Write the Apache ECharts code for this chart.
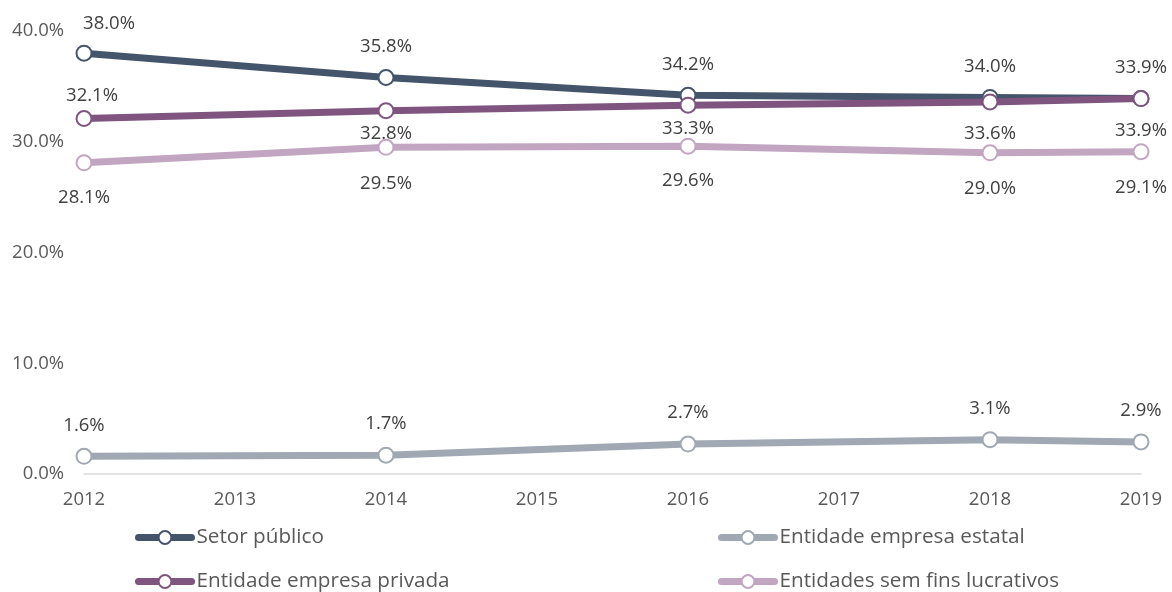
<!DOCTYPE html>
<html>
<head>
<meta charset="utf-8">
<script src="https://cdn.jsdelivr.net/npm/echarts@6/dist/echarts.min.js"></script>
<style>
  html, body { margin: 0; padding: 0; background: #ffffff; }
  #chart { width: 1172px; height: 592px; }
</style>
</head>
<body>
<div id="chart"></div>
<script>
// Years on the horizontal axis
const years = [2012, 2014, 2016, 2018, 2019];

// Share of each sector (%)
const setorPublico = [38.0, 35.8, 34.2, 34.0, 33.9];
const empresaEstatal = [1.6, 1.7, 2.7, 3.1, 2.9];
const empresaPrivada = [32.1, 32.8, 33.3, 33.6, 33.9];
const semFinsLucrativos = [28.1, 29.5, 29.6, 29.0, 29.1];

const seriesNames = [
  'Setor público',
  'Entidade empresa estatal',
  'Entidade empresa privada',
  'Entidades sem fins lucrativos'
];

const FONT = '"Open Sans", sans-serif';
const pct = v => v.toFixed(1) + '%';

// Label placement for each point: [position, distance, horizontal shift]
const labelPlacement = {
  setor: [['top', 11, 25], ['top', 13, 0], ['top', 13, 0], ['top', 13, 0], ['top', 13, 0]],
  estatal: [['top', 13, 0], ['top', 13, 0], ['top', 13, 0], ['top', 13, 0], ['top', 13, 0]],
  privada: [['top', 5, 8], ['bottom', 5, 0], ['bottom', 6, 0], ['bottom', 14, 0], ['bottom', 14, 0]],
  semFins: [['bottom', 17, 0], ['bottom', 18, 0], ['bottom', 17, 0], ['bottom', 18, 0], ['bottom', 18, 0]]
};

function buildData(values, placement) {
  return values.map((v, i) => ({
    value: [years[i], v],
    label: {
      position: placement[i][0],
      distance: placement[i][1],
      offset: [placement[i][2], 0]
    }
  }));
}

function lineSeries(name, values, color, placement) {
  return {
    name: name,
    type: 'line',
    data: buildData(values, placement),
    symbol: 'circle',
    symbolSize: 15,
    showAllSymbol: true,
    lineStyle: { color: color, width: 7 },
    itemStyle: { color: '#ffffff', borderColor: color, borderWidth: 2 },
    label: {
      show: true,
      formatter: p => pct(p.value[1]),
      color: '#404040',
      fontFamily: FONT,
      fontSize: 18.5
    },
    emphasis: { disabled: true }
  };
}

// One legend entry per slot: two columns, two rows
function legendItem(name, left, top) {
  return {
    data: [name],
    left: left,
    top: top,
    padding: 0,
    itemWidth: 53,
    itemHeight: 16,
    lineStyle: { width: 7, cap: 'round' },
    textStyle: { color: '#595959', fontFamily: FONT, fontSize: 20.7, padding: [0, 0, 0, 0] }
  };
}

const chart = echarts.init(document.getElementById('chart'), null, { renderer: 'canvas' });

chart.setOption({
  animation: false,
  backgroundColor: '#ffffff',
  grid: { left: 84, right: 31, top: 31, bottom: 118, containLabel: false },
  xAxis: {
    type: 'value',
    min: 2012,
    max: 2019,
    interval: 1,
    axisLine: { show: true, lineStyle: { color: '#d9d9d9', width: 1.5 } },
    axisTick: { show: false },
    splitLine: { show: false },
    axisLabel: {
      formatter: v => String(v),
      color: '#595959',
      fontFamily: FONT,
      fontSize: 18.5,
      margin: 16
    }
  },
  yAxis: {
    type: 'value',
    min: 0,
    max: 40,
    interval: 10,
    axisLine: { show: false },
    axisTick: { show: false },
    splitLine: { show: false },
    axisLabel: {
      formatter: v => pct(v),
      color: '#595959',
      fontFamily: FONT,
      fontSize: 18.5,
      margin: 20
    }
  },
  legend: [
    legendItem(seriesNames[0], 135, 527),
    legendItem(seriesNames[2], 135, 571),
    legendItem(seriesNames[1], 718, 527),
    legendItem(seriesNames[3], 718, 571)
  ],
  series: [
    lineSeries(seriesNames[0], setorPublico, '#44546a', labelPlacement.setor),
    lineSeries(seriesNames[1], empresaEstatal, '#a0a8b3', labelPlacement.estatal),
    lineSeries(seriesNames[2], empresaPrivada, '#7f5580', labelPlacement.privada),
    lineSeries(seriesNames[3], semFinsLucrativos, '#c2a5c1', labelPlacement.semFins)
  ]
});
</script>
</body>
</html>
